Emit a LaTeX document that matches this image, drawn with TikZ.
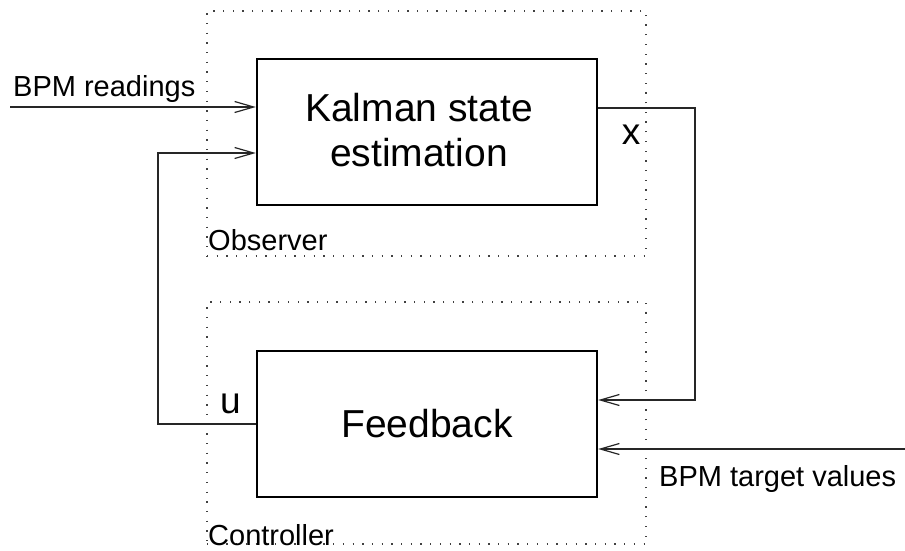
\documentclass[tikz,border=0pt]{standalone}
\usepackage{fontspec}
\setmainfont{Liberation Sans}
\usetikzlibrary{arrows.meta,calc}
\begin{document}
\begin{tikzpicture}[x=1pt,y=-1pt,
  blockbox/.style={draw=black,line width=2.4pt,minimum width=340pt,minimum height=146pt,inner sep=0pt},
  blocktext/.style={font=\fontsize{39}{45}\selectfont,align=center,inner sep=0pt},
  dotbox/.style={draw=black!75,line width=1.3pt,dash pattern=on 1.3pt off 8.4pt,minimum width=439pt,inner sep=0pt},
  arr/.style={draw=black!85,line width=1.2pt,-{Straight Barb[length=19pt,width=11pt,line width=1.2pt]}},
  small/.style={font=\fontsize{29}{34}\selectfont,inner sep=0pt},
  big/.style={font=\fontsize{37}{44}\selectfont,inner sep=0pt}]
\useasboundingbox (0,0) rectangle (905,550);
% dotted frames
\node[dotbox,minimum height=245pt] (obs) at (426.5,133.5) {};
\node[dotbox,minimum height=242pt] (ctl) at (426.5,423) {};
% blocks
\node[blockbox] (K) at (427,132) {};
\node[blocktext] (Ktxt) at (419,130) {Kalman state\\estimation};
\node[blockbox,font=\fontsize{39}{45}\selectfont] (F) at (427,424) {Feedback};
% labels
\node[small,anchor=base west] (lread) at (13,96) {BPM readings};
\node[small,anchor=base west] (lobs) at (208,250) {Observer};
\node[small,anchor=base west] (lctl) at (208,545) {Controller};
\node[small,anchor=base west] (ltgt) at (659,486) {BPM target values};
\node[big,anchor=base] (lx) at (631,144) {x};
\node[big,anchor=base] (lu) at (230.5,413) {u};
% coordinates
\coordinate (in1) at (10,107);
\coordinate (uT) at (158,153);
\coordinate (xR) at (695,108);
\coordinate (xB) at (695,400);
\coordinate (tR) at (905,449);
% connectors
\draw[arr] (in1) -- (in1 -| K.west);
\draw[arr] (F.west) -- (F.west -| uT) -- (uT) -- (uT -| K.west);
\draw[arr] (xR -| K.east) -- (xR) -- (xB) -- (xB -| F.east);
\draw[arr] (tR) -- (tR -| F.east);
\end{tikzpicture}
\end{document}
